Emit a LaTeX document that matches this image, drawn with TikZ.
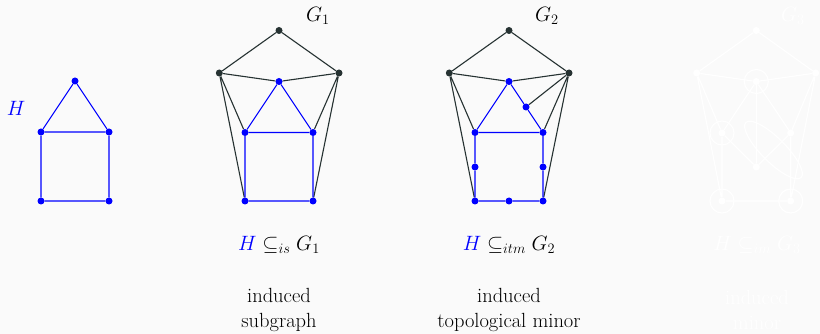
\documentclass[tikz,border=0pt]{standalone}
\usetikzlibrary{backgrounds}
\definecolor{bg}{RGB}{250,250,250}
\definecolor{dk}{RGB}{38,50,50}
\definecolor{hb}{RGB}{0,0,255}
\begin{document}
\begin{tikzpicture}[x=1pt,y=-1pt,
  vb/.style={circle,fill=hb,inner sep=0pt,minimum size=7pt},
  vd/.style={circle,fill=dk,inner sep=0pt,minimum size=7pt},
  vw/.style={circle,fill=white,inner sep=0pt,minimum size=7pt},
  eb/.style={draw=hb,line width=1.1pt},
  ed/.style={draw=dk,line width=1.1pt},
  ew/.style={draw=white,line width=1.1pt},
  txt/.style={font=\fontsize{20.5}{25}\selectfont,align=center,inner sep=0pt},
  lab/.style={font=\fontsize{20.5}{25}\selectfont,inner sep=0pt}]
\fill[bg] (0,0) rectangle (820,334);
\useasboundingbox (0,0) rectangle (820,334);
% H
\node[vb] (ht) at (75,81) {};
\node[vb] (hl) at (41,132) {};
\node[vb] (hr) at (109,132) {};
\node[vb] (hbl) at (41,201) {};
\node[vb] (hbr) at (109,201) {};
\node[lab,text=hb] (hlab) at (16,108) {$H$};
\draw[eb] (ht)--(hl) (ht)--(hr) (hl)--(hr) (hl)--(hbl) (hr)--(hbr) (hbl)--(hbr);
% G1
\node[vd] (at) at (279,30.5) {};
\node[vd] (al) at (219.3,73) {};
\node[vd] (ar) at (339,73) {};
\node[vb] (ac) at (279,81.5) {};
\node[vb] (aml) at (245,132.5) {};
\node[vb] (amr) at (313,132.5) {};
\node[vb] (abl) at (245,201) {};
\node[vb] (abr) at (313,201) {};
\node[lab] (alab) at (318,16) {$G_1$};
\draw[ed] (at)--(al) (at)--(ar) (al)--(ac) (ar)--(ac) (al)--(aml) (al)--(abl) (ar)--(amr) (ar)--(abr);
\draw[eb] (ac)--(aml) (ac)--(amr) (aml)--(amr) (aml)--(abl) (amr)--(abr) (abl)--(abr);
\node[txt] (af) at (279,245) {$\textcolor{hb}{H}\subseteq_{is}G_1$};
\node[txt] (an) at (279,310) {induced\\subgraph};
% G2
\node[vd] (bt) at (509,30.5) {};
\node[vd] (bl) at (449.3,73) {};
\node[vd] (br) at (569,73) {};
\node[vb] (bc) at (509,81.5) {};
\node[vb] (bml) at (475,132.5) {};
\node[vb] (bmr) at (543,132.5) {};
\node[vb] (bbl) at (475,201) {};
\node[vb] (bbr) at (543,201) {};
\node[vb] (bx) at (526,107) {};
\node[vb] (bsl) at (475,167) {};
\node[vb] (bsr) at (543,167) {};
\node[vb] (bsb) at (509,201) {};
\node[lab] (blab) at (547,16) {$G_2$};
\draw[ed] (bt)--(bl) (bt)--(br) (bl)--(bc) (br)--(bc) (bl)--(bml) (bl)--(bbl) (br)--(bmr) (br)--(bbr) (br)--(bx);
\draw[eb] (bc)--(bml) (bc)--(bx) (bx)--(bmr) (bml)--(bmr) (bml)--(bsl) (bsl)--(bbl) (bmr)--(bsr) (bsr)--(bbr) (bbl)--(bsb) (bsb)--(bbr);
\node[txt] (bf) at (509,245) {$\textcolor{hb}{H}\subseteq_{itm}G_2$};
\node[txt] (bn) at (509,310) {induced\\topological minor};
% G3 (ghost, white)
\node[vw] (ct) at (756.3,30.5) {};
\node[vw] (cl) at (696.7,73) {};
\node[vw] (cr) at (815.7,73) {};
\node[vw] (cc) at (756.3,81.5) {};
\node[vw] (cml) at (722,133) {};
\node[vw] (cmr) at (790.7,133) {};
\node[vw] (cm) at (756.3,167) {};
\node[vw] (cbl) at (722,201) {};
\node[vw] (cbr) at (790.7,201) {};
\node[lab,text=white] (clab) at (793,16) {$G_3$};
\draw[ew] (ct)--(cl) (ct)--(cr) (cl)--(cc) (cr)--(cc) (cl)--(cml) (cl)--(cbl) (cr)--(cmr) (cr)--(cbr)
  (cc)--(cml) (cc)--(cmr) (cc)--(cm) (cml)--(cm) (cm)--(cmr) (cml)--(cbl) (cmr)--(cbr) (cbl)--(cbr);
\draw[ew] (cc) circle (12) (cml) circle (12) (cbl) circle (12) (cbr) circle (12);
\draw[ew] (773.5,150) ellipse[x radius=39,y radius=12,rotate=-45];
\node[txt,text=white] (cf) at (757,245) {$H\subseteq_{im}G_3$};
\node[txt,text=white] (cn) at (757,310) {induced\\minor};
\end{tikzpicture}
\end{document}
